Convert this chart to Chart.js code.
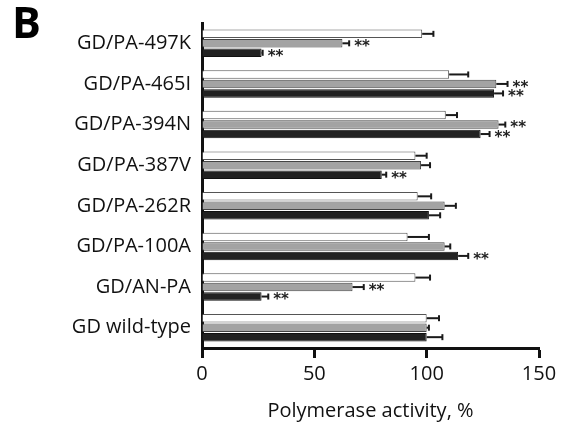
<!DOCTYPE html>
<html>
<head>
<meta charset="utf-8">
<script src="https://cdn.jsdelivr.net/npm/chart.js@4/dist/chart.umd.min.js"></script>
<style>
  html, body { margin: 0; padding: 0; background: #fff; }
  #wrap { width: 570px; height: 427px; position: relative; }
</style>
</head>
<body>
<div id="wrap"><canvas id="chart"></canvas></div>
<script>
// categories, top to bottom
const categories = ["GD/PA-497K", "GD/PA-465I", "GD/PA-394N", "GD/PA-387V",
  "GD/PA-262R", "GD/PA-100A", "GD/AN-PA", "GD wild-type"];

// three series (white, gray, black bars) and their error bars
const whiteVals = [98, 110, 108.5, 95, 96, 91.5, 95, 100];
const whiteErr  = [5, 8.5, 5, 5, 6, 9.5, 6.5, 5.5];
const grayVals  = [62.5, 131, 132, 97.5, 108, 108, 67, 100];
const grayErr   = [3, 5, 3, 4, 5, 2.5, 5, 1];
const blackVals = [26.5, 130, 124, 80, 101, 114, 26.5, 100];
const blackErr  = [0.5, 4, 4, 2, 5, 4.5, 3, 7];

// "**" marks
const whiteSig = [0, 0, 0, 0, 0, 0, 0, 0];
const graySig  = [1, 1, 1, 0, 0, 0, 1, 0];
const blackSig = [1, 1, 1, 1, 0, 1, 1, 0];

const xTicks = [0, 50, 100, 150];

const errors = [whiteErr, grayErr, blackErr];
const sigs = [whiteSig, graySig, blackSig];

// error bars + asterisks drawn with the chart's own scales
const errPlugin = {
  id: "errPlugin",
  afterDatasetsDraw(chart) {
    const ctx = chart.ctx;
    const xs = chart.scales.x;
    chart.data.datasets.forEach((ds, di) => {
      const meta = chart.getDatasetMeta(di);
      meta.data.forEach((bar, i) => {
        const v = ds.data[i];
        const e = errors[di][i];
        const x0 = xs.getPixelForValue(v);
        const x1 = xs.getPixelForValue(v + e);
        const y = bar.y;
        ctx.save();
        ctx.strokeStyle = "#1a1a1a";
        ctx.lineWidth = 2;
        ctx.beginPath();
        ctx.moveTo(x0, y);
        ctx.lineTo(x1, y);
        ctx.stroke();
        ctx.beginPath();
        ctx.moveTo(x1, y - 3);
        ctx.lineTo(x1, y + 3);
        ctx.stroke();
        if (sigs[di][i]) {
          ctx.fillStyle = "#222";
          ctx.font = "bold 15px 'DejaVu Sans'";
          ctx.textBaseline = "middle";
          ctx.textAlign = "left";
          ctx.fillText("**", x1 + 5, y + 4);
        }
        ctx.restore();
      });
    });
  },
  afterDraw(chart) {
    const ctx = chart.ctx;
    ctx.save();
    ctx.fillStyle = "#000";
    ctx.font = "bold 43px 'Open Sans'";
    ctx.textBaseline = "alphabetic";
    ctx.fillText("B", 12, 38);
    ctx.restore();
  }
};

new Chart(document.getElementById("chart"), {
  type: "bar",
  data: {
    labels: categories,
    datasets: [
      { label: "white", data: whiteVals, backgroundColor: "#ffffff", borderColor: "#555", borderWidth: 1 },
      { label: "gray", data: grayVals, backgroundColor: "#a3a3a3", borderColor: "#444", borderWidth: 1 },
      { label: "black", data: blackVals, backgroundColor: "#222222", borderColor: "#111", borderWidth: 1 }
    ]
  },
  options: {
    indexAxis: "y",
    responsive: true,
    maintainAspectRatio: false,
    animation: false,
    categoryPercentage: 0.7,
    barPercentage: 0.9,
    layout: { padding: { top: 10, right: 31, left: 0, bottom: 0 } },
    plugins: { legend: { display: false }, tooltip: { enabled: false } },
    scales: {
      x: {
        min: 0, max: 150,
        afterBuildTicks: (s) => { s.ticks = xTicks.map(v => ({ value: v })); },
        afterFit: (s) => { s.height = 79; },
        border: { display: true, width: 3, color: "#111" },
        grid: { display: true, drawOnChartArea: false, drawTicks: true, tickLength: 10, tickWidth: 3, tickColor: "#111" },
        ticks: { color: "#111", font: { family: "Open Sans", size: 20 }, padding: 4, maxRotation: 0 },
        title: { display: true, text: "Polymerase activity, %", color: "#111", font: { family: "Open Sans", size: 20 }, padding: { top: 3 } }
      },
      y: {
        afterFit: (s) => { s.width = 202; },
        border: { display: true, width: 3, color: "#111" },
        grid: { display: false, drawTicks: false },
        ticks: { color: "#111", font: { family: "Open Sans", size: 20 }, padding: 11 }
      }
    }
  },
  plugins: [errPlugin]
});
</script>
</body>
</html>
